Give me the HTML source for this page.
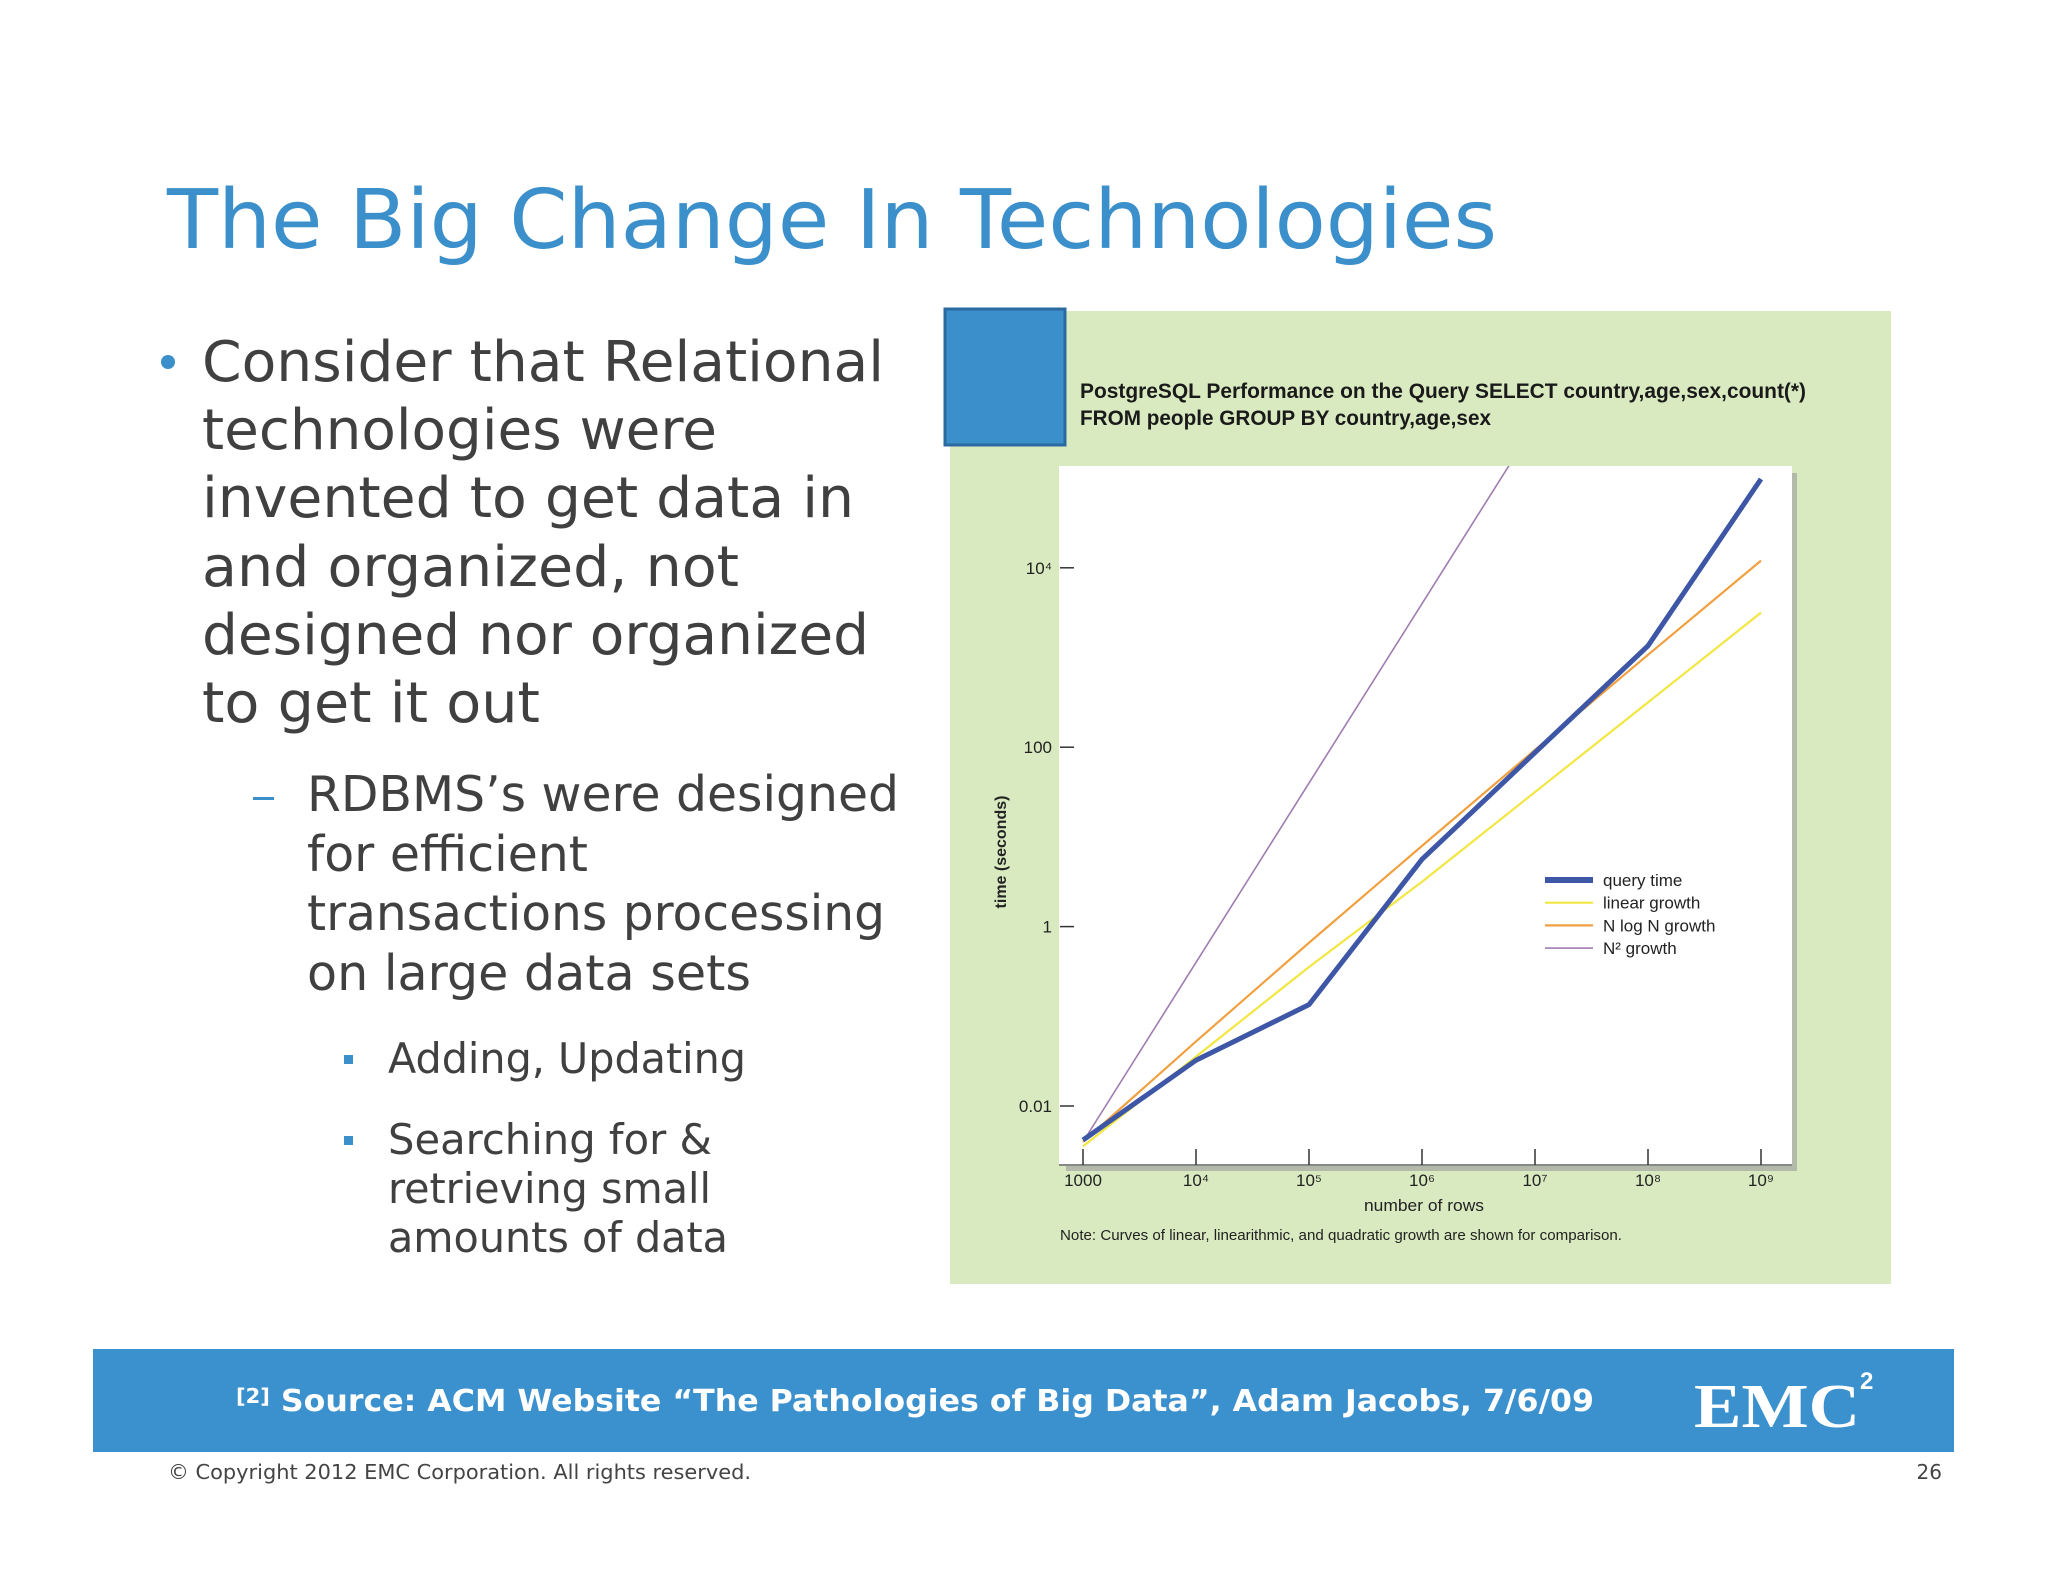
<!DOCTYPE html>
<html><head><meta charset="utf-8"><style>
html,body{margin:0;padding:0;background:#fff;}
svg{display:block;}
</style></head><body>
<svg id="slide" width="2048" height="1582" viewBox="0 0 2048 1582" xmlns="http://www.w3.org/2000/svg">
<rect width="2048" height="1582" fill="#ffffff"/>
<text x="167" y="248" font-family="DejaVu Sans, Liberation Sans, sans-serif" font-size="82" fill="#3b8fca" textLength="1330" lengthAdjust="spacingAndGlyphs">The Big Change In Technologies</text>

<g font-family="DejaVu Sans, Liberation Sans, sans-serif" fill="#404040">
<circle cx="168" cy="362" r="7" fill="#3b8fca"/>
<text x="202" y="381" font-size="56" textLength="682" lengthAdjust="spacingAndGlyphs">Consider that Relational</text>
<text x="202" y="449" font-size="56" textLength="515" lengthAdjust="spacingAndGlyphs">technologies were</text>
<text x="202" y="517" font-size="56" textLength="652" lengthAdjust="spacingAndGlyphs">invented to get data in</text>
<text x="202" y="586" font-size="56" textLength="537" lengthAdjust="spacingAndGlyphs">and organized, not</text>
<text x="202" y="654" font-size="56" textLength="667" lengthAdjust="spacingAndGlyphs">designed nor organized</text>
<text x="202" y="722" font-size="56" textLength="338" lengthAdjust="spacingAndGlyphs">to get it out</text>
<rect x="253" y="797" width="21" height="3" fill="#3b8fca"/>
<text x="307" y="811" font-size="49" textLength="592" lengthAdjust="spacingAndGlyphs">RDBMS’s were designed</text>
<text x="307" y="871" font-size="49" textLength="281" lengthAdjust="spacingAndGlyphs">for efficient</text>
<text x="307" y="930" font-size="49" textLength="578" lengthAdjust="spacingAndGlyphs">transactions processing</text>
<text x="307" y="990" font-size="49" textLength="444" lengthAdjust="spacingAndGlyphs">on large data sets</text>
<rect x="344" y="1055" width="9" height="9" fill="#3b8fca"/>
<text x="388" y="1073" font-size="42" textLength="358" lengthAdjust="spacingAndGlyphs">Adding, Updating</text>
<rect x="344" y="1136" width="9" height="9" fill="#3b8fca"/>
<text x="388" y="1154" font-size="42" textLength="324" lengthAdjust="spacingAndGlyphs">Searching for &amp;</text>
<text x="388" y="1203" font-size="42" textLength="323" lengthAdjust="spacingAndGlyphs">retrieving small</text>
<text x="388" y="1252" font-size="42" textLength="340" lengthAdjust="spacingAndGlyphs">amounts of data</text>
</g>

<g id="chart">
<rect x="950" y="311" width="941" height="973" fill="#d9eac0"/>
<rect x="945" y="309" width="120" height="136" fill="#3b8fca" stroke="#2a6aa0" stroke-width="3"/>
<text font-family="Liberation Sans, sans-serif" font-weight="bold" font-size="21" fill="#1a1a1a">
<tspan x="1080" y="398" textLength="726" lengthAdjust="spacingAndGlyphs">PostgreSQL Performance on the Query SELECT country,age,sex,count(*)</tspan>
<tspan x="1080" y="425" textLength="411" lengthAdjust="spacingAndGlyphs">FROM people GROUP BY country,age,sex</tspan></text>
<rect x="1066" y="473" width="731" height="698" fill="#9a9a9a" opacity="0.6"/>
<rect x="1059" y="466" width="733" height="699" fill="#ffffff"/>
<g id="axes" font-family="Liberation Sans, sans-serif" font-size="17" fill="#222"></g>
<clipPath id="plotclip"><rect x="1059" y="466" width="733" height="699"/></clipPath>
<g id="series" clip-path="url(#plotclip)"></g>
<text transform="translate(1006,852) rotate(-90)" text-anchor="middle" font-family="Liberation Sans, sans-serif" font-weight="bold" font-size="16" fill="#222">time (seconds)</text>
<text x="1424" y="1211" text-anchor="middle" font-family="Liberation Sans, sans-serif" font-size="17" fill="#222" textLength="120" lengthAdjust="spacingAndGlyphs">number of rows</text>
<text x="1060" y="1240" font-family="Liberation Sans, sans-serif" font-size="15" fill="#222" textLength="562" lengthAdjust="spacingAndGlyphs">Note: Curves of linear, linearithmic, and quadratic growth are shown for comparison.</text>
<g id="legend" font-family="Liberation Sans, sans-serif" font-size="17" fill="#222"></g>
</g>

<rect x="93" y="1349" width="1861" height="103" fill="#3b90ce"/>
<text x="236" y="1411" font-family="DejaVu Sans, Liberation Sans, sans-serif" font-weight="bold" font-size="30" fill="#ffffff" textLength="1358" lengthAdjust="spacingAndGlyphs"><tspan font-size="20" dy="-8">[2]</tspan><tspan dy="8"> Source:  ACM Website “The Pathologies of Big Data”, Adam Jacobs, 7/6/09</tspan></text>
<text x="1694" y="1427" font-family="Liberation Serif, serif" font-weight="bold" font-size="62" fill="#ffffff" textLength="166" lengthAdjust="spacingAndGlyphs">EMC</text>
<text x="1860" y="1389" font-family="Liberation Sans, sans-serif" font-weight="bold" font-size="24" fill="#ffffff">2</text>
<text x="168" y="1479" font-family="DejaVu Sans, Liberation Sans, sans-serif" font-size="20" fill="#444" textLength="583" lengthAdjust="spacingAndGlyphs">© Copyright 2012 EMC Corporation. All rights reserved.</text>
<text x="1942" y="1479" text-anchor="end" font-family="DejaVu Sans, Liberation Sans, sans-serif" font-size="20" fill="#444">26</text>
</svg>
<script>
// data (log10 of rows, log10 of seconds)
const xDecades = [3, 4, 5, 6, 7, 8, 9];
const xTickLabels = ["1000", "10⁴", "10⁵", "10⁶", "10⁷", "10⁸", "10⁹"];
const yTickValues = [4, 2, 0, -2];
const yTickLabels = ["10⁴", "100", "1", "0.01"];
const queryTime = [-2.38, -1.49, -0.87, 0.75, 1.94, 3.13, 4.99];
const linearGrowth = [-2.45, -1.45, -0.45, 0.5, 1.5, 2.5, 3.5];
const nlognGrowth = [-2.4, -1.28, -0.18, 0.9, 1.97, 3.03, 4.08];
const n2Growth = [-2.4, -0.4, 1.6, 3.6, 5.6, 7.6, 9.6];
const seriesNames = ["query time", "linear growth", "N log N growth", "N² growth"];

const NS = "http://www.w3.org/2000/svg";
function xScale(d){ return 1083 + (d - 3) * 113; }
function yScale(v){ return 1106 - (v + 2) * 89.7; }
function mk(tag, attrs, parent){ const e = document.createElementNS(NS, tag); for (const k in attrs) e.setAttribute(k, attrs[k]); parent.appendChild(e); return e; }

const axes = document.getElementById('axes');
const baseline = mk('line', {x1:1059, y1:1165, x2:1792, y2:1165, stroke:'#888', 'stroke-width':2}, axes);


xDecades.forEach((d, i) => {
  const t = mk('line', {x1:xScale(d), y1:1149, x2:xScale(d), y2:1165, stroke:'#333', 'stroke-width':1.5}, axes);
  
  
  const l = mk('text', {x:xScale(d), y:1186, 'text-anchor':'middle'}, axes);
  l.textContent = xTickLabels[i];
  
  
});
yTickValues.forEach((v, i) => {
  const t = mk('line', {x1:1060, y1:yScale(v), x2:1074, y2:yScale(v), stroke:'#333', 'stroke-width':1.5}, axes);
  
  
  const l = mk('text', {x:1052, y:yScale(v) + 6, 'text-anchor':'end'}, axes);
  l.textContent = yTickLabels[i];
  
  
});

const series = document.getElementById('series');
const defs = [
  [n2Growth, '#a07cb0', 1.6, 'n2-growth-line'],
  [linearGrowth, '#f2e640', 2.2, 'linear-growth-line'],
  [nlognGrowth, '#f0a040', 2.2, 'nlogn-growth-line'],
  [queryTime, '#3d56a6', 5, 'query-time-line']
];
defs.forEach(([vals, col, w, name]) => {
  const pts = vals.map((v, i) => xScale(xDecades[i]) + ',' + yScale(v)).join(' ');
  const p = mk('polyline', {points:pts, fill:'none', stroke:col, 'stroke-width':w, 'stroke-linejoin':'round'}, series);
  
  
});

const legend = document.getElementById('legend');
const legendCols = ['#3d56a6', '#f2e640', '#f0a040', '#a07cb0'];
const legendW = [6, 2.2, 2.2, 1.6];
seriesNames.forEach((n, i) => {
  const y = 880 + i * 22.7;
  const ln = mk('line', {x1:1545, y1:y, x2:1593, y2:y, stroke:legendCols[i], 'stroke-width':legendW[i]}, legend);
  
  
  const t = mk('text', {x:1603, y:y + 6}, legend);
  t.textContent = n;
  
  
});
</script>
</body></html>
